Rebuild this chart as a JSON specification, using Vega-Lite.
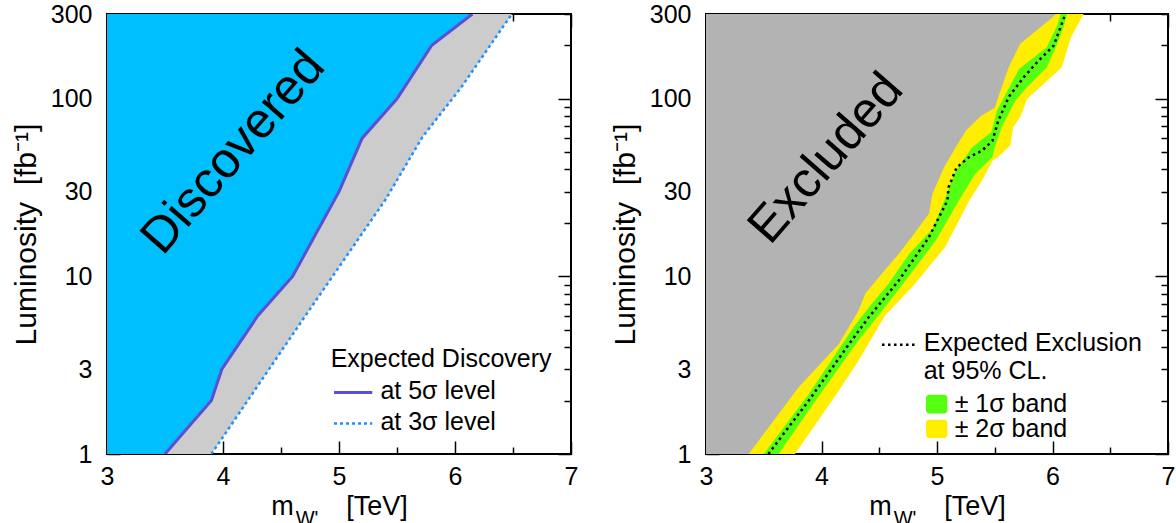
{
  "$schema": "https://vega.github.io/schema/vega-lite/v6.json",
  "autosize": {"type": "pad"},
  "padding": {"left": 10, "top": 1, "right": 0, "bottom": 0},
  "bounds": "flush",
  "spacing": 135,
  "background": "white",
  "config": {
    "view": {"stroke": "black", "strokeWidth": 2},
    "font": "Liberation Sans",
    "axis": {
      "labelFont": "Liberation Sans", "labelFontSize": 25, "labelColor": "black",
      "titleFont": "Liberation Sans", "titleFontWeight": "normal", "titleColor": "black",
      "tickColor": "black", "tickWidth": 1.5, "grid": false, "domain": false,
      "labelFlush": false, "labelOverlap": false, "labelBound": false
    },
    "text": {"font": "Liberation Sans", "color": "black"}
  },
  "datasets": {
    "discovery": [
      {"curve": "5sigma", "lumi": 1, "mass": 3.50},
      {"curve": "5sigma", "lumi": 2, "mass": 3.90},
      {"curve": "5sigma", "lumi": 3, "mass": 3.99},
      {"curve": "5sigma", "lumi": 6, "mass": 4.30},
      {"curve": "5sigma", "lumi": 10, "mass": 4.60},
      {"curve": "5sigma", "lumi": 30, "mass": 5.00},
      {"curve": "5sigma", "lumi": 60, "mass": 5.20},
      {"curve": "5sigma", "lumi": 100, "mass": 5.50},
      {"curve": "5sigma", "lumi": 200, "mass": 5.80},
      {"curve": "5sigma", "lumi": 300, "mass": 6.15},
      {"curve": "3sigma", "lumi": 1, "mass": 3.90},
      {"curve": "3sigma", "lumi": 6, "mass": 4.71},
      {"curve": "3sigma", "lumi": 27, "mass": 5.40},
      {"curve": "3sigma", "lumi": 61, "mass": 5.72},
      {"curve": "3sigma", "lumi": 115, "mass": 6.05},
      {"curve": "3sigma", "lumi": 300, "mass": 6.49}
    ],
    "exclusion": [
      {"curve": "yl", "lumi": 1, "mass": 3.37},
      {"curve": "yl", "lumi": 2.37, "mass": 3.80},
      {"curve": "yl", "lumi": 4.16, "mass": 4.15},
      {"curve": "yl", "lumi": 6.4, "mass": 4.32},
      {"curve": "yl", "lumi": 8, "mass": 4.38},
      {"curve": "yl", "lumi": 10.3, "mass": 4.52},
      {"curve": "yl", "lumi": 13.4, "mass": 4.67},
      {"curve": "yl", "lumi": 16.6, "mass": 4.78},
      {"curve": "yl", "lumi": 22.5, "mass": 4.93},
      {"curve": "yl", "lumi": 29, "mass": 4.96},
      {"curve": "yl", "lumi": 41, "mass": 5.06},
      {"curve": "yl", "lumi": 53, "mass": 5.16},
      {"curve": "yl", "lumi": 66, "mass": 5.25},
      {"curve": "yl", "lumi": 80, "mass": 5.38},
      {"curve": "yl", "lumi": 89, "mass": 5.50},
      {"curve": "yl", "lumi": 102, "mass": 5.53},
      {"curve": "yl", "lumi": 150, "mass": 5.62},
      {"curve": "yl", "lumi": 204, "mass": 5.72},
      {"curve": "yl", "lumi": 287, "mass": 6.00},
      {"curve": "yl", "lumi": 300, "mass": 6.03},
      {"curve": "gl", "lumi": 1, "mass": 3.50},
      {"curve": "gl", "lumi": 2.18, "mass": 3.89},
      {"curve": "gl", "lumi": 4.16, "mass": 4.18},
      {"curve": "gl", "lumi": 5.3, "mass": 4.29},
      {"curve": "gl", "lumi": 6.7, "mass": 4.41},
      {"curve": "gl", "lumi": 9.1, "mass": 4.58},
      {"curve": "gl", "lumi": 13.4, "mass": 4.76},
      {"curve": "gl", "lumi": 18.5, "mass": 4.96},
      {"curve": "gl", "lumi": 24.5, "mass": 5.04},
      {"curve": "gl", "lumi": 39, "mass": 5.16},
      {"curve": "gl", "lumi": 53, "mass": 5.30},
      {"curve": "gl", "lumi": 65, "mass": 5.47},
      {"curve": "gl", "lumi": 86, "mass": 5.52},
      {"curve": "gl", "lumi": 102, "mass": 5.58},
      {"curve": "gl", "lumi": 147, "mass": 5.71},
      {"curve": "gl", "lumi": 195, "mass": 5.95},
      {"curve": "gl", "lumi": 258, "mass": 6.04},
      {"curve": "gl", "lumi": 300, "mass": 6.07},
      {"curve": "med", "lumi": 1, "mass": 3.54},
      {"curve": "med", "lumi": 2, "mass": 3.89},
      {"curve": "med", "lumi": 4.35, "mass": 4.26},
      {"curve": "med", "lumi": 5.9, "mass": 4.41},
      {"curve": "med", "lumi": 9.5, "mass": 4.67},
      {"curve": "med", "lumi": 16.6, "mass": 4.93},
      {"curve": "med", "lumi": 26.7, "mass": 5.09},
      {"curve": "med", "lumi": 31.7, "mass": 5.10},
      {"curve": "med", "lumi": 41, "mass": 5.17},
      {"curve": "med", "lumi": 47, "mass": 5.28},
      {"curve": "med", "lumi": 51, "mass": 5.39},
      {"curve": "med", "lumi": 58, "mass": 5.48},
      {"curve": "med", "lumi": 75, "mass": 5.53},
      {"curve": "med", "lumi": 102, "mass": 5.62},
      {"curve": "med", "lumi": 132, "mass": 5.75},
      {"curve": "med", "lumi": 164, "mass": 5.88},
      {"curve": "med", "lumi": 199, "mass": 6.01},
      {"curve": "med", "lumi": 258, "mass": 6.075},
      {"curve": "med", "lumi": 300, "mass": 6.11},
      {"curve": "gr", "lumi": 1, "mass": 3.63},
      {"curve": "gr", "lumi": 2, "mass": 3.95},
      {"curve": "gr", "lumi": 4.35, "mass": 4.32},
      {"curve": "gr", "lumi": 6.1, "mass": 4.50},
      {"curve": "gr", "lumi": 9.5, "mass": 4.73},
      {"curve": "gr", "lumi": 15.9, "mass": 4.99},
      {"curve": "gr", "lumi": 26.7, "mass": 5.19},
      {"curve": "gr", "lumi": 37.7, "mass": 5.33},
      {"curve": "gr", "lumi": 46.8, "mass": 5.48},
      {"curve": "gr", "lumi": 53, "mass": 5.50},
      {"curve": "gr", "lumi": 69, "mass": 5.56},
      {"curve": "gr", "lumi": 97.6, "mass": 5.68},
      {"curve": "gr", "lumi": 116, "mass": 5.78},
      {"curve": "gr", "lumi": 150, "mass": 5.95},
      {"curve": "gr", "lumi": 195, "mass": 6.03},
      {"curve": "gr", "lumi": 258, "mass": 6.10},
      {"curve": "gr", "lumi": 300, "mass": 6.125},
      {"curve": "yr", "lumi": 1, "mass": 3.77},
      {"curve": "yr", "lumi": 2.27, "mass": 4.15},
      {"curve": "yr", "lumi": 3.35, "mass": 4.32},
      {"curve": "yr", "lumi": 6.0, "mass": 4.55},
      {"curve": "yr", "lumi": 9.1, "mass": 4.81},
      {"curve": "yr", "lumi": 14.6, "mass": 5.07},
      {"curve": "yr", "lumi": 26.7, "mass": 5.28},
      {"curve": "yr", "lumi": 34.6, "mass": 5.39},
      {"curve": "yr", "lumi": 44.8, "mass": 5.48},
      {"curve": "yr", "lumi": 47, "mass": 5.53},
      {"curve": "yr", "lumi": 54.5, "mass": 5.635},
      {"curve": "yr", "lumi": 69, "mass": 5.66},
      {"curve": "yr", "lumi": 78.6, "mass": 5.72},
      {"curve": "yr", "lumi": 99.7, "mass": 5.78},
      {"curve": "yr", "lumi": 129, "mass": 5.97},
      {"curve": "yr", "lumi": 150, "mass": 6.08},
      {"curve": "yr", "lumi": 222, "mass": 6.16},
      {"curve": "yr", "lumi": 300, "mass": 6.27}
    ]
  },
  "hconcat": [
    {
      "width": 464, "height": 440,
      "data": {"name": "discovery"},
      "resolve": {"axis": {"x": "independent", "y": "independent"}},
      "layer": [
        {
          "transform": [{"filter": "datum.curve === '3sigma'"}],
          "mark": {"type": "area", "orient": "horizontal", "color": "#CCCCCC", "clip": true},
          "encoding": {
            "y": {"field": "lumi", "type": "quantitative", "scale": {"type": "log", "domain": [1, 300], "nice": false},
              "axis": {"orient": "left", "values": [1,2,3,4,5,6,7,8,9,10,20,30,40,50,60,70,80,90,100,200,300],
                "labelExpr": "indexof([1,3,10,30,100,300], datum.value) >= 0 ? format(datum.value, 'd') : ''",
                "tickSize": {"condition": {"test": "indexof([1,10,100], datum.value) >= 0", "value": -13}, "value": -7},
                "labelPadding": {"condition": {"test": "indexof([1,10,100], datum.value) >= 0", "value": 28}, "value": 22},
                "title": "Luminosity\u00a0\u00a0[fb⁻¹]", "titleFontSize": 30, "titlePadding": 9}},
            "x": {"field": "mass", "type": "quantitative", "scale": {"domain": [3, 7], "nice": false, "zero": false},
              "axis": {"orient": "bottom", "values": [3,3.5,4,4.5,5,5.5,6,6.5,7],
                "labelExpr": "datum.value % 1 === 0 ? format(datum.value, 'd') : ''",
                "tickSize": {"condition": {"test": "datum.value % 1 === 0", "value": -13}, "value": -7},
                "labelPadding": {"condition": {"test": "datum.value % 1 === 0", "value": 23}, "value": 17},
                "title": "m\u00a0\u00a0\u00a0\u00a0\u00a0\u00a0\u00a0[TeV]", "titleFontSize": 27, "titlePadding": 4}},
            "x2": {"datum": 3}
          }
        },
        {
          "transform": [{"filter": "datum.curve === '5sigma'"}],
          "mark": {"type": "area", "orient": "horizontal", "color": "#00BFFF", "clip": true},
          "encoding": {
            "y": {"field": "lumi", "type": "quantitative",
              "axis": {"orient": "right", "values": [1,2,3,4,5,6,7,8,9,10,20,30,40,50,60,70,80,90,100,200,300], "labels": false, "title": null,
                "tickSize": {"condition": {"test": "indexof([1,10,100], datum.value) >= 0", "value": -13}, "value": -7}}},
            "x": {"field": "mass", "type": "quantitative",
              "axis": {"orient": "top", "values": [3,3.5,4,4.5,5,5.5,6,6.5,7], "labels": false, "title": null,
                "tickSize": {"condition": {"test": "datum.value % 1 === 0", "value": -13}, "value": -7}}},
            "x2": {"datum": 3}
          }
        },
        {
          "transform": [{"filter": "datum.curve === '5sigma'"}],
          "mark": {"type": "line", "color": "#5B4FD6", "strokeWidth": 3, "clip": true},
          "encoding": {
            "x": {"field": "mass", "type": "quantitative", "axis": null},
            "y": {"field": "lumi", "type": "quantitative", "axis": null},
            "order": {"field": "lumi"}
          }
        },
        {
          "transform": [{"filter": "datum.curve === '3sigma'"}],
          "mark": {"type": "line", "color": "#1E90FF", "strokeWidth": 2.5, "strokeDash": [3, 3], "clip": true},
          "encoding": {
            "x": {"field": "mass", "type": "quantitative", "axis": null},
            "y": {"field": "lumi", "type": "quantitative", "axis": null},
            "order": {"field": "lumi"}
          }
        },
        {
          "data": {"values": [{}]},
          "mark": {"type": "text", "text": "Discovered", "fontSize": 50, "angle": -49, "align": "center", "baseline": "middle"},
          "encoding": {"x": {"datum": 4.09, "type": "quantitative", "axis": null}, "y": {"datum": 50, "type": "quantitative", "axis": null}}
        },
        {
          "data": {"values": [{}]},
          "mark": {"type": "text", "text": "Expected Discovery", "fontSize": 25, "align": "left", "baseline": "alphabetic"},
          "encoding": {"x": {"datum": 4.928, "type": "quantitative", "axis": null}, "y": {"datum": 3.07, "type": "quantitative", "axis": null}}
        },
        {
          "data": {"values": [{}]},
          "mark": {"type": "rule", "color": "#5B4FD6", "strokeWidth": 3},
          "encoding": {"x": {"datum": 4.957, "type": "quantitative", "axis": null}, "x2": {"datum": 5.287}, "y": {"datum": 2.22, "type": "quantitative", "axis": null}}
        },
        {
          "data": {"values": [{}]},
          "mark": {"type": "text", "text": "at 5σ level", "fontSize": 25, "align": "left", "baseline": "alphabetic"},
          "encoding": {"x": {"datum": 5.357, "type": "quantitative", "axis": null}, "y": {"datum": 2.048, "type": "quantitative", "axis": null}}
        },
        {
          "data": {"values": [{}]},
          "mark": {"type": "rule", "color": "#1E90FF", "strokeWidth": 2.5, "strokeDash": [3, 3]},
          "encoding": {"x": {"datum": 4.957, "type": "quantitative", "axis": null}, "x2": {"datum": 5.287}, "y": {"datum": 1.487, "type": "quantitative", "axis": null}}
        },
        {
          "data": {"values": [{}]},
          "mark": {"type": "text", "text": "at 3σ level", "fontSize": 25, "align": "left", "baseline": "alphabetic"},
          "encoding": {"x": {"datum": 5.357, "type": "quantitative", "axis": null}, "y": {"datum": 1.365, "type": "quantitative", "axis": null}}
        },
        {
          "data": {"values": [{}]},
          "mark": {"type": "text", "text": "W'", "fontSize": 20, "align": "left", "baseline": "alphabetic"},
          "encoding": {"x": {"datum": 4.627, "type": "quantitative", "axis": null}, "y": {"datum": 0.40, "type": "quantitative", "axis": null}}
        }
      ]
    },
    {
      "width": 462, "height": 440,
      "data": {"name": "exclusion"},
      "resolve": {"axis": {"x": "independent", "y": "independent"}},
      "layer": [
        {
          "transform": [{"filter": "datum.curve === 'yr'"}],
          "mark": {"type": "area", "orient": "horizontal", "color": "#FFEE00", "clip": true},
          "encoding": {
            "y": {"field": "lumi", "type": "quantitative", "scale": {"type": "log", "domain": [1, 300], "nice": false},
              "axis": {"orient": "left", "values": [1,2,3,4,5,6,7,8,9,10,20,30,40,50,60,70,80,90,100,200,300],
                "labelExpr": "indexof([1,3,10,30,100,300], datum.value) >= 0 ? format(datum.value, 'd') : ''",
                "tickSize": {"condition": {"test": "indexof([1,10,100], datum.value) >= 0", "value": -13}, "value": -7},
                "labelPadding": {"condition": {"test": "indexof([1,10,100], datum.value) >= 0", "value": 28}, "value": 22},
                "title": "Luminosity\u00a0\u00a0[fb⁻¹]", "titleFontSize": 30, "titlePadding": 9}},
            "x": {"field": "mass", "type": "quantitative", "scale": {"domain": [3, 7], "nice": false, "zero": false},
              "axis": {"orient": "bottom", "values": [3,3.5,4,4.5,5,5.5,6,6.5,7],
                "labelExpr": "datum.value % 1 === 0 ? format(datum.value, 'd') : ''",
                "tickSize": {"condition": {"test": "datum.value % 1 === 0", "value": -13}, "value": -7},
                "labelPadding": {"condition": {"test": "datum.value % 1 === 0", "value": 23}, "value": 17},
                "title": "m\u00a0\u00a0\u00a0\u00a0\u00a0\u00a0\u00a0[TeV]", "titleFontSize": 27, "titlePadding": 4}},
            "x2": {"datum": 3}
          }
        },
        {
          "transform": [{"filter": "datum.curve === 'gr'"}],
          "mark": {"type": "area", "orient": "horizontal", "color": "#55FF11", "clip": true},
          "encoding": {
            "y": {"field": "lumi", "type": "quantitative",
              "axis": {"orient": "right", "values": [1,2,3,4,5,6,7,8,9,10,20,30,40,50,60,70,80,90,100,200,300], "labels": false, "title": null,
                "tickSize": {"condition": {"test": "indexof([1,10,100], datum.value) >= 0", "value": -13}, "value": -7}}},
            "x": {"field": "mass", "type": "quantitative",
              "axis": {"orient": "top", "values": [3,3.5,4,4.5,5,5.5,6,6.5,7], "labels": false, "title": null,
                "tickSize": {"condition": {"test": "datum.value % 1 === 0", "value": -13}, "value": -7}}},
            "x2": {"datum": 3}
          }
        },
        {
          "transform": [{"filter": "datum.curve === 'gl'"}],
          "mark": {"type": "area", "orient": "horizontal", "color": "#FFEE00", "clip": true},
          "encoding": {
            "y": {"field": "lumi", "type": "quantitative", "axis": null},
            "x": {"field": "mass", "type": "quantitative", "axis": null},
            "x2": {"datum": 3}
          }
        },
        {
          "transform": [{"filter": "datum.curve === 'yl'"}],
          "mark": {"type": "area", "orient": "horizontal", "color": "#B3B3B3", "clip": true},
          "encoding": {
            "y": {"field": "lumi", "type": "quantitative", "axis": null},
            "x": {"field": "mass", "type": "quantitative", "axis": null},
            "x2": {"datum": 3}
          }
        },
        {
          "transform": [{"filter": "datum.curve === 'med'"}],
          "mark": {"type": "line", "color": "black", "strokeWidth": 2.5, "strokeDash": [2.5, 3.5], "clip": true},
          "encoding": {
            "x": {"field": "mass", "type": "quantitative", "axis": null},
            "y": {"field": "lumi", "type": "quantitative", "axis": null},
            "order": {"field": "lumi"}
          }
        },
        {
          "data": {"values": [{}]},
          "mark": {"type": "text", "text": "Excluded", "fontSize": 50, "angle": -49, "align": "center", "baseline": "middle"},
          "encoding": {"x": {"datum": 4.04, "type": "quantitative", "axis": null}, "y": {"datum": 46, "type": "quantitative", "axis": null}}
        },
        {
          "data": {"values": [{}]},
          "mark": {"type": "rule", "color": "black", "strokeWidth": 2.5, "strokeDash": [2.5, 3.5]},
          "encoding": {"x": {"datum": 4.524, "type": "quantitative", "axis": null}, "x2": {"datum": 4.827}, "y": {"datum": 4.125, "type": "quantitative", "axis": null}}
        },
        {
          "data": {"values": [{}]},
          "mark": {"type": "text", "text": "Expected Exclusion", "fontSize": 25, "align": "left", "baseline": "alphabetic"},
          "encoding": {"x": {"datum": 4.885, "type": "quantitative", "axis": null}, "y": {"datum": 3.815, "type": "quantitative", "axis": null}}
        },
        {
          "data": {"values": [{}]},
          "mark": {"type": "text", "text": "at 95% CL.", "fontSize": 25, "align": "left", "baseline": "alphabetic"},
          "encoding": {"x": {"datum": 4.885, "type": "quantitative", "axis": null}, "y": {"datum": 2.644, "type": "quantitative", "axis": null}}
        },
        {
          "data": {"values": [{}]},
          "mark": {"type": "rect", "color": "#55FF11", "cornerRadius": 3},
          "encoding": {"x": {"datum": 4.905, "type": "quantitative", "axis": null}, "x2": {"datum": 5.090}, "y": {"datum": 1.693, "type": "quantitative", "axis": null}, "y2": {"datum": 2.158}}
        },
        {
          "data": {"values": [{}]},
          "mark": {"type": "text", "text": "± 1σ band", "fontSize": 25, "align": "left", "baseline": "alphabetic"},
          "encoding": {"x": {"datum": 5.153, "type": "quantitative", "axis": null}, "y": {"datum": 1.715, "type": "quantitative", "axis": null}}
        },
        {
          "data": {"values": [{}]},
          "mark": {"type": "rect", "color": "#FFEE00", "cornerRadius": 3},
          "encoding": {"x": {"datum": 4.905, "type": "quantitative", "axis": null}, "x2": {"datum": 5.090}, "y": {"datum": 1.231, "type": "quantitative", "axis": null}, "y2": {"datum": 1.56}}
        },
        {
          "data": {"values": [{}]},
          "mark": {"type": "text", "text": "± 2σ band", "fontSize": 25, "align": "left", "baseline": "alphabetic"},
          "encoding": {"x": {"datum": 5.153, "type": "quantitative", "axis": null}, "y": {"datum": 1.24, "type": "quantitative", "axis": null}}
        },
        {
          "data": {"values": [{}]},
          "mark": {"type": "text", "text": "W'", "fontSize": 20, "align": "left", "baseline": "alphabetic"},
          "encoding": {"x": {"datum": 4.625, "type": "quantitative", "axis": null}, "y": {"datum": 0.40, "type": "quantitative", "axis": null}}
        }
      ]
    }
  ]
}
